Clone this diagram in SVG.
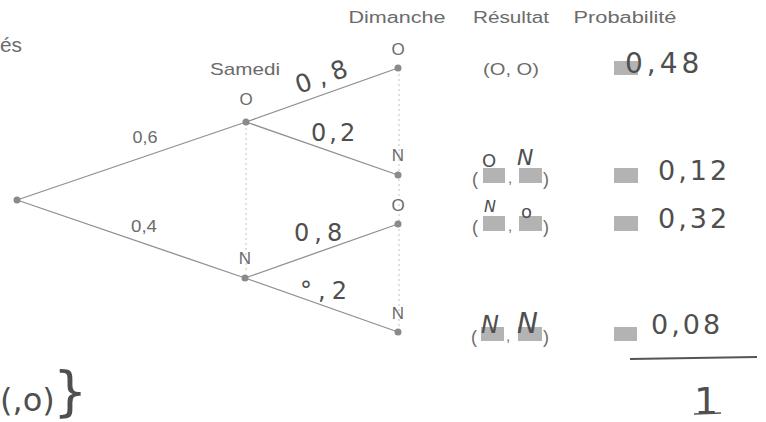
<svg xmlns="http://www.w3.org/2000/svg" width="766" height="422" viewBox="0 0 766 422">
  <style>
    .print { font-family: "Liberation Sans", Roboto, Arial, sans-serif; fill: #6b6b6b; }
    .hand { font-family: "DejaVu Sans", "Liberation Sans", sans-serif; fill: #4f4f4f; }
    .branch { stroke: #8f8f8f; stroke-width: 1.3; fill: none; }
    .guide { stroke: #c4c4c4; stroke-width: 1; stroke-dasharray: 2 3; fill: none; }
    .dot { fill: #8a8a8a; }
    .box { fill: #b3b3b3; }
  </style>
  <rect width="766" height="422" fill="#ffffff"/>

  <!-- column headings -->
  <g id="headings" class="print" font-size="16" text-anchor="middle">
    <text x="397" y="23" textLength="97" lengthAdjust="spacingAndGlyphs">Dimanche</text>
    <text x="511" y="23" textLength="76" lengthAdjust="spacingAndGlyphs">Résultat</text>
    <text x="625" y="23" textLength="103" lengthAdjust="spacingAndGlyphs">Probabilité</text>
    <text x="245" y="75" font-size="17" textLength="70" lengthAdjust="spacingAndGlyphs">Samedi</text>
  </g>
  <text class="print" x="0" y="52" font-size="20" textLength="22" lengthAdjust="spacingAndGlyphs">és</text>

  <!-- guides under each level -->
  <g id="guides">
    <line class="guide" x1="246" y1="128" x2="246" y2="272"/>
    <line class="guide" x1="399" y1="74" x2="399" y2="328"/>
  </g>

  <!-- connectors -->
  <g id="connectors">
    <line class="branch" x1="17" y1="200" x2="246" y2="122"/>
    <line class="branch" x1="17" y1="200" x2="245" y2="278"/>
    <line class="branch" x1="246" y1="122" x2="398" y2="68"/>
    <line class="branch" x1="246" y1="122" x2="398" y2="175"/>
    <line class="branch" x1="245" y1="278" x2="398" y2="224"/>
    <line class="branch" x1="245" y1="278" x2="398" y2="332"/>
    <text class="print" x="145" y="143" font-size="16" text-anchor="middle" textLength="25" lengthAdjust="spacingAndGlyphs">0,6</text>
    <text class="print" x="144" y="232" font-size="16" text-anchor="middle" textLength="26" lengthAdjust="spacingAndGlyphs">0,4</text>
    <text class="hand" x="299" y="94" font-size="25" transform="rotate(-20 299 94)" letter-spacing="7">0,8</text>
    <text class="hand" x="311" y="141" font-size="24" letter-spacing="3">0,2</text>
    <text class="hand" x="294" y="241" font-size="24" letter-spacing="5">0,8</text>
    <text class="hand" x="300" y="299" font-size="24" letter-spacing="6">°,2</text>
  </g>

  <!-- tree nodes -->
  <g id="root">
    <circle class="dot" cx="17" cy="200" r="3.5"/>
  </g>
  <g id="sat-o">
    <circle class="dot" cx="246" cy="122" r="3.5"/>
    <text class="print" x="246" y="105" font-size="17" text-anchor="middle">O</text>
  </g>
  <g id="sat-n">
    <circle class="dot" cx="245" cy="278" r="3.5"/>
    <text class="print" x="245" y="264" font-size="17" text-anchor="middle">N</text>
  </g>
  <g id="sun-oo">
    <circle class="dot" cx="398" cy="68" r="3.5"/>
    <text class="print" x="398" y="55" font-size="17" text-anchor="middle">O</text>
  </g>
  <g id="sun-on">
    <circle class="dot" cx="398" cy="175" r="3.5"/>
    <text class="print" x="398" y="161" font-size="17" text-anchor="middle">N</text>
  </g>
  <g id="sun-no">
    <circle class="dot" cx="398" cy="224" r="3.5"/>
    <text class="print" x="398" y="211" font-size="17" text-anchor="middle">O</text>
  </g>
  <g id="sun-nn">
    <circle class="dot" cx="398" cy="332" r="3.5"/>
    <text class="print" x="398" y="319" font-size="17" text-anchor="middle">N</text>
  </g>

  <!-- outcomes -->
  <g id="result-1">
    <text class="print" x="511" y="75" font-size="17" text-anchor="middle" textLength="56" lengthAdjust="spacingAndGlyphs">(O, O)</text>
  </g>
  <g id="result-2">
    <text class="print" x="472" y="185" font-size="18">(</text>
    <rect class="box" x="483" y="168" width="22" height="15"/>
    <text class="print" x="508" y="183" font-size="15">,</text>
    <rect class="box" x="519" y="168" width="23" height="15"/>
    <text class="print" x="543" y="185" font-size="18">)</text>
    <text class="hand" x="482" y="167" font-size="18">O</text>
    <text class="hand" x="517" y="165" font-size="22" font-style="italic">N</text>
  </g>
  <g id="result-3">
    <text class="print" x="472" y="233" font-size="18">(</text>
    <rect class="box" x="483" y="216" width="22" height="15"/>
    <text class="print" x="508" y="231" font-size="15">,</text>
    <rect class="box" x="519" y="216" width="23" height="15"/>
    <text class="print" x="543" y="233" font-size="18">)</text>
    <text class="hand" x="484" y="212" font-size="16" font-style="italic">N</text>
    <text class="hand" x="521" y="218" font-size="18">o</text>
  </g>
  <g id="result-4">
    <text class="print" x="471" y="343" font-size="18">(</text>
    <rect class="box" x="481" y="327" width="23" height="14"/>
    <text class="print" x="506" y="341" font-size="15">,</text>
    <rect class="box" x="518" y="327" width="24" height="14"/>
    <text class="print" x="543" y="343" font-size="18">)</text>
    <text class="hand" x="481" y="333" font-size="24" font-style="italic">N</text>
    <text class="hand" x="517" y="333" font-size="28" font-style="italic">N</text>
  </g>

  <!-- probabilities -->
  <g id="prob-1">
    <rect class="box" x="614" y="61" width="24" height="14"/>
    <text class="hand" x="625" y="73" font-size="28" letter-spacing="4">0,48</text>
  </g>
  <g id="prob-2">
    <rect class="box" x="614" y="168" width="24" height="15"/>
    <text class="hand" x="658" y="180" font-size="27" letter-spacing="3">0,12</text>
  </g>
  <g id="prob-3">
    <rect class="box" x="614" y="216" width="24" height="15"/>
    <text class="hand" x="658" y="228" font-size="27" letter-spacing="3">0,32</text>
  </g>
  <g id="prob-4">
    <rect class="box" x="614" y="327" width="23" height="14"/>
    <text class="hand" x="651" y="334" font-size="27" letter-spacing="3">0,08</text>
  </g>
  <g id="total">
    <path d="M630 359 L757 357" stroke="#555" stroke-width="1.8" fill="none"/>
    <text class="hand" x="706" y="414" font-size="38" text-anchor="middle">1</text>
    <line x1="694" y1="414" x2="721" y2="413" stroke="#555" stroke-width="1.6"/>
  </g>

  <!-- set notation at the lower left -->
  <text class="hand" x="0" y="411" font-size="32">(,o)</text>
  <text class="hand" x="53" y="410" font-size="54">}</text>
</svg>
